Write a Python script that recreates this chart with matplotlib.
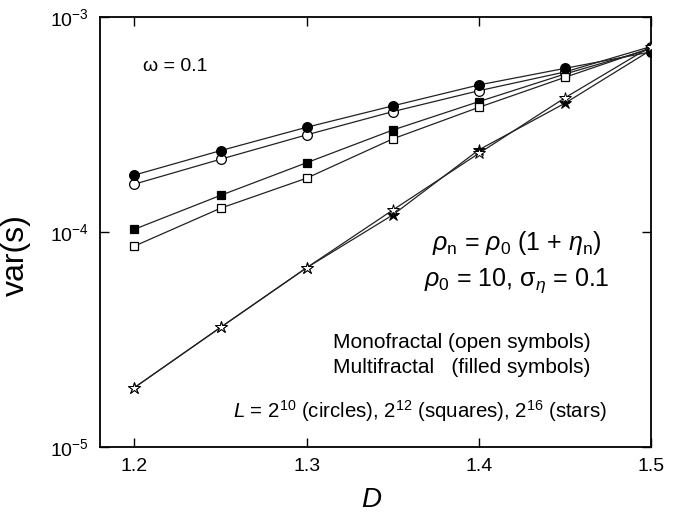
import numpy as np
import matplotlib
matplotlib.use('Agg')
import matplotlib.pyplot as plt

plt.rcParams['font.family'] = ['Liberation Sans', 'DejaVu Sans']
plt.rcParams['mathtext.fontset'] = 'custom'
plt.rcParams['mathtext.rm'] = 'Liberation Sans'
plt.rcParams['mathtext.it'] = 'Liberation Sans:italic'
plt.rcParams['mathtext.bf'] = 'Liberation Sans:bold'

# fractal dimension D
D = [1.2, 1.25, 1.3, 1.35, 1.4, 1.45, 1.5]

# var(s)
circ_multi = [1.84e-4, 2.39e-4, 3.07e-4, 3.86e-4, 4.83e-4, 5.77e-4, 6.88e-4]
circ_mono = [1.67e-4, 2.18e-4, 2.83e-4, 3.63e-4, 4.54e-4, 5.55e-4, 7.29e-4]
sq_multi = [1.03e-4, 1.48e-4, 2.10e-4, 2.98e-4, 4.04e-4, 5.43e-4, 7.10e-4]
sq_mono = [8.6e-5, 1.29e-4, 1.78e-4, 2.71e-4, 3.80e-4, 5.24e-4, 7.18e-4]
star_mono = [1.89e-5, 3.60e-5, 6.82e-5, 1.265e-4, 2.32e-4, 4.21e-4, 7.29e-4]
star_multi = [1.89e-5, 3.60e-5, 6.82e-5, 1.20e-4, 2.41e-4, 3.97e-4, 7.02e-4]

fig = plt.figure(figsize=(6.81, 5.23), dpi=100)
ax = fig.add_axes([100/681, 1 - 447/523, 551/681, 430/523])

lc = '#222222'
lw = 0.9
# open symbols = monofractal, filled = multifractal
ax.plot(D, sq_mono, color=lc, lw=lw, marker='s', ms=6, mfc='white', mec='black', mew=0.9, zorder=3)
ax.plot(D, sq_multi, color=lc, lw=lw, marker='s', ms=6, mfc='black', mec='black', mew=0.9, zorder=2)
ax.plot(D, circ_mono, color=lc, lw=lw, marker='o', ms=7, mfc='white', mec='black', mew=0.9, zorder=2)
ax.plot(D, circ_multi, color=lc, lw=lw, marker='o', ms=7, mfc='black', mec='black', mew=0.9, zorder=3)
ax.plot(D, star_multi, color=lc, lw=lw, marker='*', ms=9, mfc='black', mec='black', mew=0.7, zorder=2)
ax.plot(D, star_mono, color=lc, lw=lw, marker='*', ms=9, mfc='white', mec='black', mew=0.7, zorder=3)

ax.set_yscale('log')
ax.set_xlim(1.18, 1.5)
ax.set_ylim(1e-5, 1e-3)
ax.set_xticks([1.2, 1.3, 1.4, 1.5])
ax.set_xticklabels(['1.2', '1.3', '1.4', '1.5'])
ax.set_yticks([1e-5, 1e-4, 1e-3])
ax.yaxis.set_minor_locator(matplotlib.ticker.NullLocator())
ax.tick_params(direction='in', length=6.5, width=1.0, labelsize=14, top=True, right=True, pad=8)
for s in ax.spines.values():
    s.set_linewidth(1.3)

ax.set_xlabel('$D$', fontsize=20)
ax.xaxis.set_label_coords((372 - 100) / 551, (447 - 487) / 430)
ax.set_ylabel('var(s)', fontsize=23)
ax.yaxis.set_label_coords((31 - 100) / 551, (447 - 255) / 430)

ax.text(0.078, 0.884, 'ω = 0.1', transform=ax.transAxes, fontsize=14, va='center', ha='left')
ax.text(0.757, 0.474, r'$\rho_\mathrm{n}$ = $\rho_0$ (1 + $\eta_\mathrm{n}$)', transform=ax.transAxes,
        fontsize=18, va='center', ha='center')
ax.text(0.757, 0.388, r'$\rho_0$ = 10, $\mathrm{\sigma}_\eta$ = 0.1', transform=ax.transAxes,
        fontsize=18, va='center', ha='center')
ax.text(0.423, 0.244, 'Monofractal (open symbols)', transform=ax.transAxes, fontsize=15, va='center', ha='left')
ax.text(0.423, 0.186, 'Multifractal   (filled symbols)', transform=ax.transAxes, fontsize=15, va='center', ha='left')
ax.text(0.241, 0.084, r'$L$ = 2$^{10}$ (circles), 2$^{12}$ (squares), 2$^{16}$ (stars)', transform=ax.transAxes,
        fontsize=14.7, va='center', ha='left')

fig.savefig('out.png', dpi=100)
